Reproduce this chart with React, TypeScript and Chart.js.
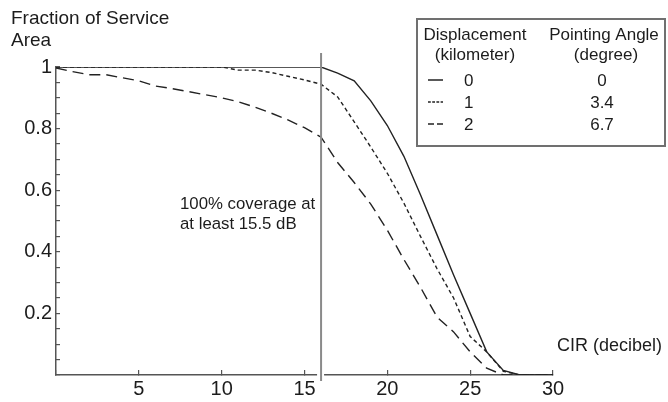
import React, { useEffect, useRef } from 'react';
import { Chart, registerables } from 'chart.js';

Chart.register(...registerables);

// ---- data ----
const cirDecibel = [0, 1, 2, 3, 4, 5, 6, 7, 8, 9, 10, 11, 12, 13, 14, 15, 16, 17, 18, 19, 20, 21, 22, 23, 24, 25, 26, 27, 28, 29, 30];
const fraction0km = [1, 1, 1, 1, 1, 1, 1, 1, 1, 1, 1, 1, 1, 1, 1, 1, 1, 0.98, 0.955, 0.89, 0.81, 0.71, 0.585, 0.455, 0.325, 0.2, 0.075, 0.015, 0, 0, 0];
const fraction1km = [1, 1, 1, 1, 1, 1, 1, 1, 1, 1, 1, 0.99, 0.99, 0.982, 0.97, 0.958, 0.944, 0.903, 0.822, 0.74, 0.655, 0.558, 0.45, 0.345, 0.25, 0.125, 0.075, 0.012, 0, 0, 0];
const fraction2km = [0.997, 0.985, 0.975, 0.975, 0.965, 0.955, 0.938, 0.93, 0.92, 0.91, 0.9, 0.887, 0.87, 0.85, 0.828, 0.803, 0.772, 0.69, 0.625, 0.555, 0.47, 0.375, 0.285, 0.188, 0.14, 0.075, 0.022, 0, 0, 0, 0];
const legendDisplacements = ['0', '1', '2'];
const legendAngles = ['0', '3.4', '6.7'];
const yMajorLabels = [0.2, 0.4, 0.6, 0.8, 1];
const coverageLineAt = 16;
const titleLines = ['Fraction of Service', 'Area'];
const annotationLines = ['100% coverage at', 'at least 15.5 dB'];
const xAxisTitle = 'CIR (decibel)';
const legendHeaders = [['Displacement', '(kilometer)'], ['Pointing Angle', '(degree)']];

const FONT = "'Liberation Sans', Arial, Helvetica, sans-serif";
const INK = '#1c1c1c';
const LINE = '#222222';
const dashes = [[], [4, 3], [11, 6]];
const legendDashes = [[], [2.8, 1.4], [6, 3]];

const extras = {
  id: 'extras',
  afterDraw(chart: any) {
    const ctx = chart.ctx as CanvasRenderingContext2D;
    const xs = chart.scales.x;
    const ys = chart.scales.y;
    ctx.save();
    // break in axis + vertical threshold line
    const vx = xs.getPixelForValue(coverageLineAt);
    ctx.fillStyle = '#ffffff';
    ctx.fillRect(vx - 4, ys.bottom - 2, 7, 4);
    ctx.strokeStyle = '#8a8a8a';
    ctx.lineWidth = 2;
    ctx.beginPath();
    ctx.moveTo(vx, ys.getPixelForValue(1) - 14);
    ctx.lineTo(vx, ys.bottom + 6);
    ctx.stroke();

    ctx.fillStyle = INK;
    ctx.textBaseline = 'alphabetic';
    // y title
    ctx.font = `19px ${FONT}`;
    ctx.textAlign = 'left';
    ctx.fillText(titleLines[0], 11, 24);
    ctx.fillText(titleLines[1], 11, 46);
    // annotation
    ctx.font = `16.8px ${FONT}`;
    ctx.fillText(annotationLines[0], 180, 209);
    ctx.fillText(annotationLines[1], 180, 229);
    // x title
    ctx.font = `18px ${FONT}`;
    ctx.fillText(xAxisTitle, 557, 351);

    // legend box
    const bx = 417, by = 19, bw = 248, bh = 127;
    ctx.strokeStyle = '#707070';
    ctx.lineWidth = 2;
    ctx.strokeRect(bx, by, bw, bh);
    ctx.font = `17px ${FONT}`;
    ctx.textAlign = 'center';
    ctx.fillText(legendHeaders[0][0], 475, 40);
    ctx.fillText(legendHeaders[0][1], 475, 60);
    ctx.fillText(legendHeaders[1][0], 604, 40);
    ctx.fillText(legendHeaders[1][1], 606, 60);
    const rowY = [86, 108, 130];
    legendDisplacements.forEach((d, i) => {
      const y = rowY[i];
      ctx.strokeStyle = LINE;
      ctx.lineWidth = 1.5;
      ctx.setLineDash(legendDashes[i]);
      ctx.beginPath();
      ctx.moveTo(428, y - 6);
      ctx.lineTo(443, y - 6);
      ctx.stroke();
      ctx.setLineDash([]);
      ctx.textAlign = 'left';
      ctx.fillText(d, 464, y);
      ctx.textAlign = 'center';
      ctx.fillText(legendAngles[i], 602, y);
    });
    ctx.restore();
  },
};

export default function App() {
  const ref = useRef<HTMLCanvasElement | null>(null);
  useEffect(() => {
    if (!ref.current) return;
    const series = [fraction0km, fraction1km, fraction2km];
    const chart = new Chart(ref.current, {
      type: 'line',
      data: {
        datasets: series.map((s, i) => ({
          label: legendDisplacements[i] + ' km',
          data: cirDecibel.map((x, j) => ({ x, y: s[j] })),
          borderColor: LINE,
          borderWidth: 1.4,
          borderDash: dashes[i],
          pointRadius: 0,
          tension: 0,
          fill: false,
        })),
      },
      options: {
        responsive: false,
        maintainAspectRatio: false,
        animation: false,
        layout: { padding: { top: 67, right: 115, left: 0, bottom: 0 } },
        plugins: { legend: { display: false }, tooltip: { enabled: false }, title: { display: false } },
        scales: {
          x: {
            type: 'linear',
            min: 0,
            max: 30,
            afterFit: (s: any) => { s.height = 27; },
            ticks: {
              stepSize: 5,
              autoSkip: false,
              maxRotation: 0,
              padding: 7,
              color: INK,
              font: { family: FONT, size: 20 },
              callback: (v: any) => (v === 0 ? '' : String(v)),
            },
            grid: { drawOnChartArea: false, tickLength: -5, color: '#555', lineWidth: 1.2 },
            border: { color: '#555', width: 1.5 },
          },
          y: {
            min: 0,
            max: 1,
            afterFit: (s: any) => { s.width = 56; },
            ticks: {
              stepSize: 0.05,
              autoSkip: false,
              padding: 8,
              color: INK,
              font: { family: FONT, size: 20 },
              callback: (v: any) => {
                const n = Math.round(Number(v) * 100) / 100;
                return yMajorLabels.some((m) => Math.abs(m - n) < 1e-6) ? String(n) : '';
              },
            },
            grid: { drawOnChartArea: false, tickLength: -4, color: '#555', lineWidth: 1.2 },
            border: { color: '#555', width: 1.5 },
          },
        },
      } as any,
      plugins: [extras],
    });
    return () => chart.destroy();
  }, []);
  return (
    <div style={{ position: 'fixed', left: 0, top: 0, width: 668, height: 402, background: '#fff' }}>
      <canvas ref={ref} width={668} height={402} style={{ width: 668, height: 402, display: 'block' }} />
    </div>
  );
}
